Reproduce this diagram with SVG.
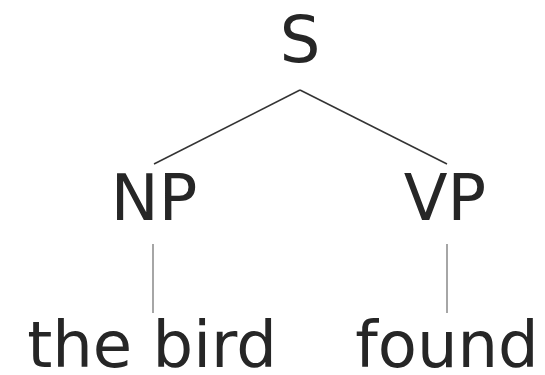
<svg xmlns="http://www.w3.org/2000/svg" width="545" height="375" viewBox="0 0 545 375">
  <style>
    .lbl { font-family: "DejaVu Sans", "Liberation Sans", sans-serif; font-size: 64px; fill: #262626; text-anchor: middle; }
    .edge { stroke: #333; stroke-width: 1.5; fill: none; }
    .leaf { stroke: #888; stroke-width: 1.5; fill: none; }
  </style>
  <rect width="545" height="375" fill="#fff"/>
  <!-- tree edges: S to its daughters, then each phrase to its words -->
  <g id="connectors">
    <path class="edge" d="M300 90 L154 164"/>
    <path class="edge" d="M300 90 L447 164"/>
    <path class="leaf" d="M153 244 L153 313"/>
    <path class="leaf" d="M447 244 L447 313"/>
  </g>
  <g id="S"><text class="lbl" x="300" y="62">S</text></g>
  <g id="NP"><text class="lbl" x="154" y="220">NP</text></g>
  <g id="VP"><text class="lbl" x="445" y="220">VP</text></g>
  <g id="the-bird"><text class="lbl" x="152" y="367">the bird</text></g>
  <g id="found"><text class="lbl" x="447" y="367">found</text></g>
</svg>
